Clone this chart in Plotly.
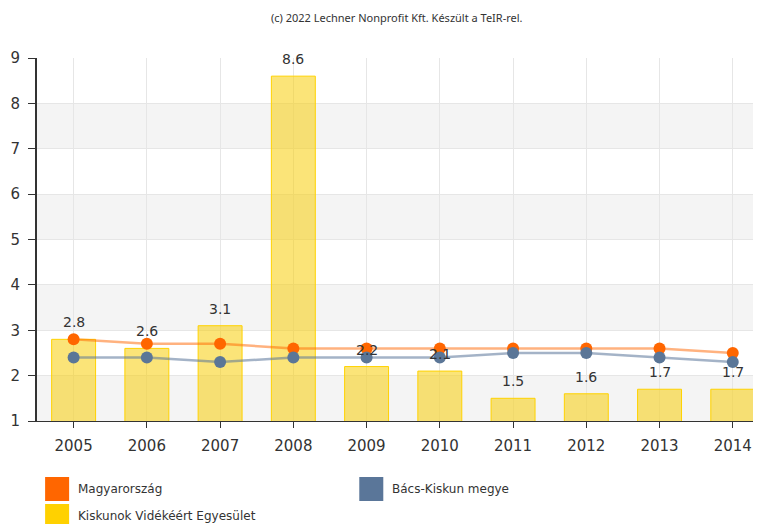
import plotly.graph_objects as go

years = [2005, 2006, 2007, 2008, 2009, 2010, 2011, 2012, 2013, 2014]
magyarorszag = [2.8, 2.7, 2.7, 2.6, 2.6, 2.6, 2.6, 2.6, 2.6, 2.5]
bacs_kiskun = [2.4, 2.4, 2.3, 2.4, 2.4, 2.4, 2.5, 2.5, 2.4, 2.3]
kiskunok = [2.8, 2.6, 3.1, 8.6, 2.2, 2.1, 1.5, 1.6, 1.7, 1.7]
series_names = ["Magyarország", "Bács-Kiskun megye", "Kiskunok Vidékéért Egyesület"]
title_text = "(c) 2022 Lechner Nonprofit Kft. Készült a TeIR-rel."

OFF = 8  # page body margin
W, H = 761 - OFF, 524 - OFF
ML, MR, MT = 37.4 - OFF, 0, 58 - OFF
MB = H - (421 - OFF)
PW = W - ML - MR
PH = H - MT - MB

def px(x):
    return (x - OFF - ML) / PW

def py(y):
    return (H - MB - (y - OFF)) / PH

FONT = "DejaVu Sans"
TXT = "#333333"

fig = go.Figure()

fig.add_trace(go.Bar(
    x=years, y=kiskunok, name=series_names[2], width=0.6,
    marker=dict(color="rgba(247,205,10,0.55)", line=dict(color="#ffd200", width=1)),
    showlegend=False, hoverinfo="x+y",
))
fig.add_trace(go.Scatter(
    x=years, y=magyarorszag, name=series_names[0], mode="lines+markers",
    line=dict(color="rgba(255,102,0,0.5)", width=2.5),
    marker=dict(color="#ff6600", size=12), showlegend=False,
))
fig.add_trace(go.Scatter(
    x=years, y=bacs_kiskun, name=series_names[1], mode="lines+markers",
    line=dict(color="rgba(90,117,153,0.55)", width=2.5),
    marker=dict(color="#5b7697", size=12), showlegend=False,
))

annotations = []
for xv, yv in zip(years, kiskunok):
    annotations.append(dict(
        x=xv, y=yv, text=f"{yv:.1f}", showarrow=False, yanchor="bottom",
        yshift=7, font=dict(family=FONT, size=14, color=TXT),
    ))

# title
annotations.append(dict(
    x=px(397), y=py(17), xref="paper", yref="paper", text=title_text,
    showarrow=False, xanchor="center", yanchor="middle",
    font=dict(family="Noto Sans", size=11, color=TXT),
))

shapes = []
# alternating bands
for lo in [1, 3, 5, 7]:
    shapes.append(dict(type="rect", xref="paper", yref="y", x0=0, x1=1, y0=lo, y1=lo + 1,
                       fillcolor="#f4f4f4", line=dict(width=0), layer="below"))

# legend (manual square swatches)
legend_items = [
    (series_names[0], "#ff6600", 45.5, 477),
    (series_names[1], "#5a7699", 359.5, 477),
    (series_names[2], "#ffd100", 45.5, 504),
]
for name, col, lx, ly in legend_items:
    shapes.append(dict(type="rect", xref="paper", yref="paper",
                       x0=px(lx), x1=px(lx + 24), y0=py(ly + 24), y1=py(ly),
                       fillcolor=col, line=dict(width=0)))
    annotations.append(dict(
        x=px(lx + 31), y=py(ly + 12), xref="paper", yref="paper", text=name,
        showarrow=False, xanchor="left", yanchor="middle",
        font=dict(family=FONT, size=12, color=TXT),
    ))

fig.update_layout(
    width=W, height=H,
    margin=dict(l=ML, r=MR, t=MT, b=MB, pad=0, autoexpand=False),
    paper_bgcolor="white", plot_bgcolor="white",
    showlegend=False,
    annotations=annotations, shapes=shapes,
    font=dict(family=FONT, color=TXT),
    bargap=0.4,
)
fig.update_xaxes(
    range=[2004.5, 2004.5 + PW / 73.2], tickvals=years, ticktext=[str(y) for y in years],
    showgrid=True, gridcolor="#e6e6e6", gridwidth=1,
    showline=True, linecolor="#333333", linewidth=1,
    ticks="outside", ticklen=6, tickcolor="#333333",
    tickfont=dict(family=FONT, size=15, color=TXT), zeroline=False,
    ticklabelstandoff=5, automargin=False,
)
fig.update_yaxes(
    range=[1, 9], dtick=1, tick0=1,
    showgrid=True, gridcolor="#e6e6e6", gridwidth=1,
    showline=True, linecolor="#333333", linewidth=2,
    ticks="outside", ticklen=7, tickcolor="#333333",
    tickfont=dict(family=FONT, size=15, color=TXT), zeroline=False,
    ticklabelstandoff=5, automargin=False,
)

fig.write_html("out.html")
